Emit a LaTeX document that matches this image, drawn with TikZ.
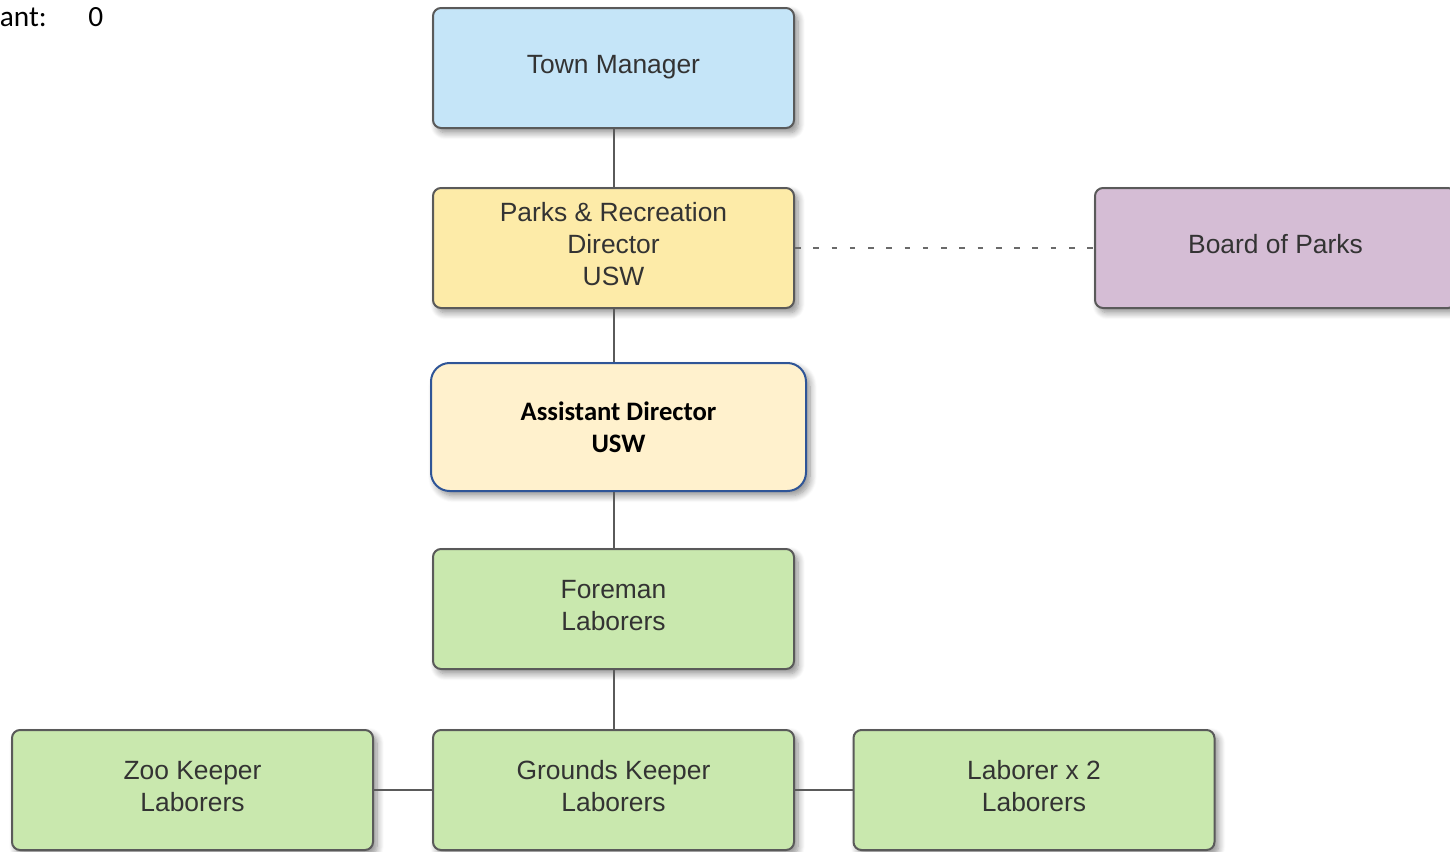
\documentclass[tikz,border=0pt]{standalone}
\usepackage{fontspec}
\setmainfont{Liberation Sans}
\newfontfamily\calib{Carlito}
\usetikzlibrary{shadows.blur}
\definecolor{linegray}{HTML}{5A5A5A}
\definecolor{dotgray}{HTML}{6A6A6A}
\definecolor{txtgray}{HTML}{333333}
\definecolor{tmblue}{HTML}{C5E5F8}
\definecolor{pryellow}{HTML}{FDEBA8}
\definecolor{adyellow}{HTML}{FFF1CD}
\definecolor{adborder}{HTML}{2F5597}
\definecolor{bppurple}{HTML}{D5BDD5}
\definecolor{grgreen}{HTML}{C9E8AE}
\tikzset{
  softshadow/.style={blur shadow={shadow xshift=3pt, shadow yshift=-3.5pt, shadow blur radius=5pt, shadow blur steps=8, shadow opacity=45}},
  orgbox/.style={draw=linegray, line width=1.5pt, rounded corners=6pt,
    minimum width=270.75pt, minimum height=90pt, align=center,
    text=txtgray, font=\fontsize{19.8}{24}\selectfont, text depth=5.5pt,
    softshadow},
  adbox/.style={draw=adborder, line width=1.5pt, rounded corners=14pt, fill=adyellow,
    minimum width=281.25pt, minimum height=96pt, align=center,
    text=black, font=\calib\bfseries\fontsize{20}{24}\selectfont,
    softshadow},
  conn/.style={draw=linegray, line width=1.5pt},
  dotconn/.style={draw=dotgray, line width=2.2pt, dash pattern=on 4.2pt off 9.5pt},
}
\begin{document}
\begin{tikzpicture}[x=0.75pt,y=-0.75pt]
\path[use as bounding box] (0,0) rectangle (1450,851);
\node[anchor=base east, font=\calib\fontsize{22}{24}\selectfont, inner sep=0pt] (lab) at (47,26) {ant:};
\node[anchor=base west, font=\calib\fontsize{22}{24}\selectfont, inner sep=0pt] (zero) at (88,26) {0};

\node[orgbox, fill=tmblue] (tm) at (613.5,68) {Town Manager};
\node[orgbox, fill=pryellow] (pr) at (613.5,248) {Parks \& Recreation\\Director\\USW};
\node[orgbox, fill=bppurple] (bp) at (1275.5,248) {Board of Parks};
\node[adbox] (ad) at (618.5,427) {Assistant Director\\USW};
\node[orgbox, fill=grgreen] (fm) at (613.5,609) {Foreman\\Laborers};
\node[orgbox, fill=grgreen] (zk) at (192.5,790) {Zoo Keeper\\Laborers};
\node[orgbox, fill=grgreen] (gk) at (613.5,790) {Grounds Keeper\\Laborers};
\node[orgbox, fill=grgreen] (lb) at (1034,790) {Laborer x 2\\Laborers};

\draw[conn] (tm.south) -- (pr.north);
\draw[conn] (pr.south) -- (pr.south |- ad.north);
\draw[conn] (ad.south -| fm.north) -- (fm.north);
\draw[conn] (fm.south) -- (gk.north);
\draw[conn] (zk.east) -- (gk.west);
\draw[conn] (gk.east) -- (lb.west);
\draw[dotconn] (pr.east) -- (bp.west);
\end{tikzpicture}
\end{document}
